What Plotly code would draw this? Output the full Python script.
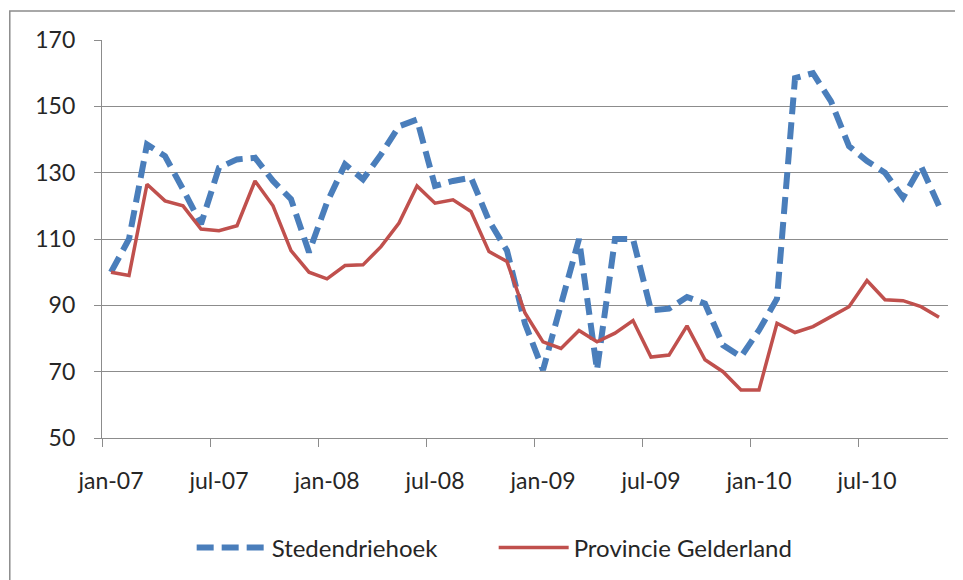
import plotly.graph_objects as go

# monthly index, jan-07 .. nov-10
months = list(range(47))
tick_pos = [0, 6, 12, 18, 24, 30, 36, 42]
tick_labels = ["jan-07", "jul-07", "jan-08", "jul-08", "jan-09", "jul-09", "jan-10", "jul-10"]

stedendriehoek = [100, 110, 138.5, 135, 125, 114.5, 131.5, 134, 134.5, 127.5,
                  122, 106, 121, 132.5, 128, 135.5, 144, 146, 126, 127.5,
                  128.5, 115.5, 106.5, 84.5, 70.5, 91, 110, 70.5, 110, 110,
                  88.5, 89, 92.5, 90.5, 78, 74.5, 82.5, 92, 158.5, 160,
                  151.5, 138, 133.5, 130, 122.5, 132, 120]

gelderland = [100, 99, 126.5, 121.5, 120, 113, 112.5, 114, 127.5, 120,
              106.5, 100, 98, 102, 102.2, 107.7, 114.8, 126, 120.8, 121.8,
              118.3, 106.2, 103.2, 87.7, 79, 77, 82.4, 79, 81.6, 85.4,
              74.4, 75, 83.8, 73.6, 70, 64.5, 64.5, 84.6, 81.8, 83.6,
              86.6, 89.6, 97.5, 91.7, 91.4, 89.6, 86.4]

grid = "#8c8c8c"
txt = "#262626"

fig = go.Figure()

fig.add_trace(go.Scatter(
    x=months, y=stedendriehoek, name="Stedendriehoek", mode="lines",
    line=dict(color="#4a7ebb", width=6, dash="17px,8px"),
))
fig.add_trace(go.Scatter(
    x=months, y=gelderland, name="Provincie Gelderland", mode="lines",
    line=dict(color="#c0504d", width=3.5),
))

# page body has an 8px margin, so the margins here are 8px smaller on top/left
fig.update_layout(
    width=963, height=580,
    margin=dict(l=94, r=23, t=32, b=150),
    paper_bgcolor="white", plot_bgcolor="white",
    font=dict(family="Lato, sans-serif", size=23, color=txt),
    showlegend=True,
    legend=dict(orientation="h", x=0.106, xanchor="left", y=-0.276, yanchor="middle",
                font=dict(size=24, color=txt), itemwidth=70, entrywidth=217,
                traceorder="normal"),
)

fig.update_xaxes(
    range=[-0.5, 46.5], tickmode="array", tickvals=tick_pos, ticktext=tick_labels,
    ticks="", ticklabelstandoff=22, showgrid=False, zeroline=False,
    showline=True, linecolor=grid, linewidth=1.2,
    minor=dict(tickmode="array", tickvals=[-0.5, 5.5, 11.5, 17.5, 23.5, 29.5, 35.5, 41.5],
               ticks="outside", ticklen=8, tickcolor=grid, tickwidth=1.2, showgrid=False),
)
fig.update_yaxes(
    range=[50, 170], tickmode="linear", tick0=50, dtick=20,
    ticks="outside", ticklen=7, tickcolor=grid, tickwidth=1.2, ticklabelstandoff=14,
    showgrid=True, gridcolor=grid, gridwidth=1.2, zeroline=False,
    showline=True, linecolor=grid, linewidth=1.2,
)

# outer chart border (cropped on the right and bottom in the source)
fig.add_shape(type="rect", xref="paper", yref="paper",
              x0=-0.109, x1=1.5, y0=-1.0, y1=1.073,
              line=dict(color="#8c8c8c", width=1.5), fillcolor="rgba(0,0,0,0)", layer="below")

fig.write_html("out.html")
